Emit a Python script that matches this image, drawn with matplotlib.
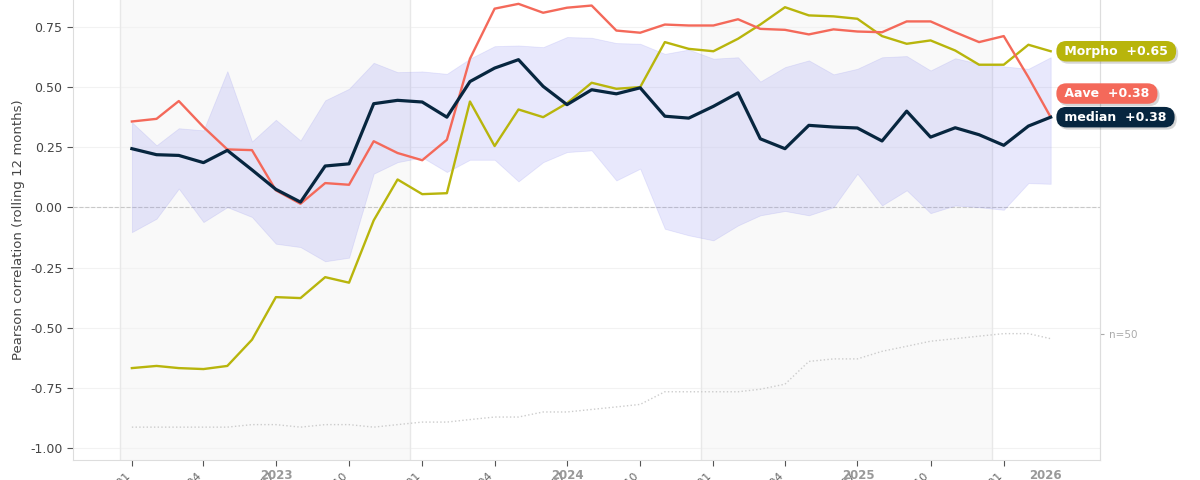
import matplotlib
matplotlib.use('Agg')
import matplotlib.pyplot as plt
import matplotlib.dates as mdates
import pandas as pd

plt.rcParams['axes.unicode_minus'] = False
plt.rcParams['font.family'] = ['DejaVu Sans']

# monthly observations, 2023-01 .. 2026-03
months = pd.date_range('2023-01-01', periods=39, freq='MS')

aave = [0.357, 0.368, 0.442, 0.334, 0.241, 0.238, 0.071, 0.015, 0.101, 0.094,
        0.275, 0.226, 0.196, 0.281, 0.618, 0.826, 0.846, 0.809, 0.830, 0.839,
        0.735, 0.726, 0.760, 0.756, 0.756, 0.782, 0.742, 0.738, 0.719, 0.740,
        0.731, 0.728, 0.773, 0.773, 0.728, 0.687, 0.712, 0.541, 0.375]
morpho = [-0.668, -0.659, -0.668, -0.672, -0.659, -0.550, -0.373, -0.377, -0.290, -0.313,
          -0.054, 0.116, 0.055, 0.059, 0.440, 0.255, 0.407, 0.375, 0.433, 0.518,
          0.493, 0.500, 0.687, 0.659, 0.649, 0.701, 0.760, 0.832, 0.798, 0.794,
          0.784, 0.712, 0.680, 0.694, 0.652, 0.593, 0.593, 0.676, 0.649]
median = [0.244, 0.219, 0.216, 0.186, 0.237, 0.156, 0.075, 0.022, 0.172, 0.181,
          0.431, 0.445, 0.438, 0.375, 0.523, 0.579, 0.614, 0.503, 0.427, 0.489,
          0.472, 0.497, 0.379, 0.371, 0.420, 0.476, 0.285, 0.244, 0.341, 0.334,
          0.330, 0.276, 0.400, 0.292, 0.331, 0.302, 0.258, 0.338, 0.375]
band_lo = [-0.103, -0.047, 0.078, -0.061, 0.001, -0.040, -0.151, -0.165, -0.224, -0.209,
           0.140, 0.188, 0.208, 0.147, 0.198, 0.198, 0.108, 0.188, 0.230, 0.237,
           0.112, 0.161, -0.089, -0.116, -0.137, -0.075, -0.033, -0.015, -0.033, 0.001,
           0.140, 0.008, 0.071, -0.024, 0.008, 0.001, -0.010, 0.101, 0.098]
band_hi = [0.354, 0.258, 0.329, 0.320, 0.566, 0.274, 0.364, 0.278, 0.445, 0.493,
           0.601, 0.562, 0.565, 0.555, 0.618, 0.670, 0.673, 0.666, 0.708, 0.705,
           0.683, 0.680, 0.638, 0.656, 0.618, 0.624, 0.523, 0.583, 0.611, 0.553,
           0.576, 0.624, 0.629, 0.569, 0.620, 0.597, 0.586, 0.576, 0.624]
n_count = [13, 13, 13, 13, 13, 14, 14, 13, 14, 14,
           13, 14, 15, 15, 16, 17, 17, 19, 19, 20,
           21, 22, 27, 27, 27, 27, 28, 30, 39, 40,
           40, 43, 45, 47, 48, 49, 50, 50, 48]

C_AAVE = '#f4695a'
C_MORPHO = '#b8b50c'
C_MED = '#07263f'

fig = plt.figure(figsize=(12, 4.8), dpi=100)
ax = fig.add_axes([73 / 1200, 20 / 480, 1027 / 1200, 460 / 480])

ax.set_xlim(pd.Timestamp('2022-10-19'), pd.Timestamp('2026-05-02'))
ax.set_ylim(-1.05, 0.862)

# alternate-year shading
half = pd.Timedelta(days=15)
for yr in (2023, 2025):
    x0 = pd.Timestamp(f'{yr}-01-01') - half
    x1 = pd.Timestamp(f'{yr + 1}-01-01') - half
    ax.axvspan(x0, x1, facecolor='#f9f9f9', edgecolor='none', zorder=0)
    ax.axvline(x0, color='#e8e8e8', lw=1, zorder=0.6)
    ax.axvline(x1, color='#e8e8e8', lw=1, zorder=0.6)

ax.yaxis.grid(True, color='#f2f2f2', lw=0.8)
ax.set_axisbelow(True)
ax.axhline(0, color='#c8c8c8', lw=0.8, ls='--', zorder=1)

ax.fill_between(months, band_lo, band_hi, facecolor='#7b7bef', alpha=0.17,
                edgecolor='#7b7bef', lw=0.6, zorder=2)
ax.plot(months, morpho, color=C_MORPHO, lw=1.7, zorder=3)
ax.plot(months, aave, color=C_AAVE, lw=1.7, zorder=4)
ax.plot(months, median, color=C_MED, lw=2.3, zorder=5)

# y axis
yt = [-1.0, -0.75, -0.5, -0.25, 0.0, 0.25, 0.5, 0.75]
ax.set_yticks(yt)
ax.set_yticklabels([f'{v:.2f}' for v in yt])
ax.set_ylabel('Pearson correlation (rolling 12 months)', fontsize=9.5, color='#444444')
ax.tick_params(axis='y', labelsize=9, labelcolor='#444444', color='#555555', length=4)

# x axis
xt = [m for m in months if m.month in (1, 4, 7, 10)]
ax.set_xticks(xt)
ax.xaxis.set_major_formatter(mdates.DateFormatter('%Y-%m'))
ax.tick_params(axis='x', labelsize=8, labelcolor='#666666', color='#555555', length=4)
for lab in ax.get_xticklabels():
    lab.set_rotation(45)
    lab.set_ha('right')

for yr in sorted(set(months.year)):
    start = pd.Timestamp(f'{yr}-01-01')
    end = min(pd.Timestamp(f'{yr}-12-31'), months[-1] + pd.Timedelta(days=46))
    mid = start + (end - start) / 2
    ax.annotate(str(yr), xy=(mdates.date2num(mid), 0), xycoords=('data', 'axes fraction'),
                xytext=(0, -6.8), textcoords='offset points', ha='center', va='top',
                fontsize=8.5, fontweight='bold', color='#999999', annotation_clip=False)

for side in ('left', 'bottom', 'right'):
    ax.spines[side].set_color('#dddddd')
ax.spines['top'].set_visible(False)

# coverage count on a hidden secondary scale
ax2 = ax.twinx()
ax2.plot(months, n_count, color='#cccccc', lw=1, ls=':')
ax2.set_ylim(0, 182)
ax2.set_yticks([50])
ax2.set_yticklabels(['n=50'])
ax2.tick_params(axis='y', labelsize=7.5, labelcolor='#aaaaaa', color='#aaaaaa', length=3)
for side in ('left', 'bottom', 'top'):
    ax2.spines[side].set_visible(False)
ax2.spines['right'].set_color('#dddddd')

x_last = mdates.date2num(months[-1])


def tag(value, text, color, dy):
    common = dict(xy=(x_last, value), xycoords=ax.transData, textcoords='offset points',
                  ha='left', va='center', fontsize=9, fontweight='bold',
                  annotation_clip=False)
    box = 'round,pad=0.3,rounding_size=0.8'
    label = f' {text} '
    ax2.annotate(label, xytext=(8.3, dy - 1.6), color='none',
                 bbox=dict(boxstyle=box, fc=(0, 0, 0, 0.16), ec='none'),
                 zorder=9, **common)
    ax2.annotate(label, xytext=(6.8, dy), color='white',
                 bbox=dict(boxstyle=box, fc=color, ec='none'),
                 zorder=10, **common)


tag(morpho[-1], f'Morpho  {morpho[-1]:+.2f}', C_MORPHO, 0)
tag(aave[-1], f'Aave  {aave[-1]:+.2f}', C_AAVE, 17)
tag(median[-1], f'median  {median[-1]:+.2f}', C_MED, 0)

fig.savefig('out.png', dpi=100)
